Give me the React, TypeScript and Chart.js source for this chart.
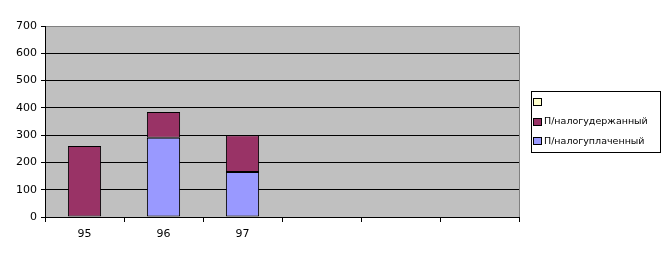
import React, { useEffect, useRef } from "react";
import { Chart, registerables } from "chart.js";

Chart.register(...registerables);

const categories = ["95", "96", "97", "", "", ""];
const paidValues = [0, 290, 165, null, null, null];
const withheldValues = [260, 95, 135, null, null, null];
const emptyValues = [null, null, null, null, null, null];
const yTicks = [0, 100, 200, 300, 400, 500, 600, 700];
const seriesLabels = ["П/налогуплаченный", "П/налогудержанный", ""];
const seriesColors = ["#9999FF", "#993366", "#FFFFCC"];

const FONT = "DejaVu Sans";

const backgroundPlugin = {
  id: "plotBg",
  beforeDraw(chart: any) {
    const { ctx, chartArea: a } = chart;
    ctx.save();
    ctx.fillStyle = "#C0C0C0";
    ctx.fillRect(a.left, a.top, a.right - a.left, a.bottom - a.top);
    ctx.strokeStyle = "#808080";
    ctx.lineWidth = 1;
    ctx.beginPath();
    ctx.moveTo(a.left, Math.round(a.top) + 0.5);
    ctx.lineTo(Math.round(a.right) + 0.5, Math.round(a.top) + 0.5);
    ctx.lineTo(Math.round(a.right) + 0.5, a.bottom);
    ctx.stroke();
    ctx.restore();
  },
};

const legendPlugin = {
  id: "boxLegend",
  afterDraw(chart: any) {
    const { ctx } = chart;
    const x = 531.5, y = 91.5, w = 129, h = 61;
    ctx.save();
    ctx.fillStyle = "#FFFFFF";
    ctx.fillRect(x, y, w, h);
    ctx.strokeStyle = "#000000";
    ctx.lineWidth = 1;
    ctx.strokeRect(x, y, w, h);
    const ds = chart.data.datasets.slice().reverse();
    ctx.font = `9.5px "${FONT}"`;
    ctx.textBaseline = "middle";
    ctx.textAlign = "left";
    ds.forEach((d: any, i: number) => {
      const cy = 102 + i * 19.5;
      const sy = Math.round(cy - 3);
      ctx.fillStyle = d.backgroundColor;
      ctx.fillRect(534, sy, 8, 7);
      ctx.strokeStyle = "#000000";
      ctx.strokeRect(533.5, sy - 0.5, 8, 7);
      ctx.fillStyle = "#000000";
      ctx.fillText(d.label, 544, cy + 0.5);
    });
    ctx.restore();
  },
};

export default function App() {
  const ref = useRef<HTMLCanvasElement>(null);
  useEffect(() => {
    if (!ref.current) return;
    const values = [paidValues, withheldValues, emptyValues];
    const chart = new Chart(ref.current, {
      type: "bar",
      data: {
        labels: categories,
        datasets: values.map((v, i) => ({
          label: seriesLabels[i],
          data: v as any,
          backgroundColor: seriesColors[i],
          borderColor: "#000000",
          borderWidth: 1,
          borderSkipped: false,
          categoryPercentage: 1,
          barPercentage: 0.42,
        })),
      },
      options: {
        animation: false,
        responsive: false,
        maintainAspectRatio: false,
        layout: { padding: { left: 0, top: 26, right: 149, bottom: 0 } },
        plugins: { legend: { display: false }, tooltip: { enabled: false } },
        scales: {
          x: {
            stacked: true,
            offset: true,
            grid: {
              offset: true,
              drawOnChartArea: false,
              drawTicks: true,
              tickLength: 5,
              color: "#000000",
            },
            border: { color: "#000000", width: 1 },
            ticks: {
              color: "#000000",
              font: { family: FONT, size: 11 },
              padding: 6,
              maxRotation: 0,
              autoSkip: false,
            },
            afterFit(scale: any) {
              scale.height = 43;
            },
          },
          y: {
            stacked: true,
            min: 0,
            max: 700,
            afterBuildTicks(scale: any) {
              scale.ticks = yTicks.map((v) => ({ value: v }));
            },
            grid: {
              color: (c: any) => (c.tick && c.tick.value === 700 ? "#808080" : "#000000"),
              tickColor: "#000000",
              tickLength: 4,
            },
            border: { color: "#000000", width: 1 },
            ticks: {
              color: "#000000",
              font: { family: FONT, size: 11 },
              padding: 4,
            },
            afterFit(scale: any) {
              scale.width = 45;
            },
          },
        },
      },
      plugins: [backgroundPlugin, legendPlugin],
    });
    return () => chart.destroy();
  }, []);
  return (
    <div style={{ position: "absolute", left: 0, top: 0, width: 668, height: 260, background: "#fff" }}>
      <canvas ref={ref} width={668} height={260} style={{ width: 668, height: 260 }} />
    </div>
  );
}
